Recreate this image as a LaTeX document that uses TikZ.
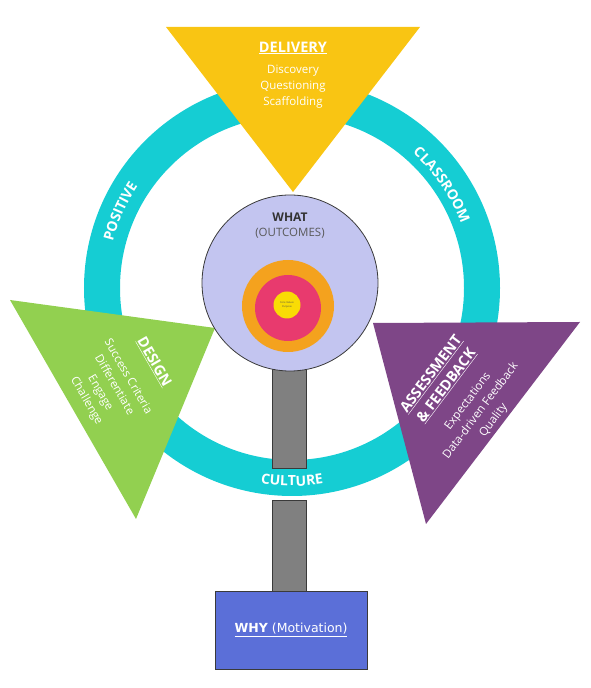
\documentclass[tikz,border=0pt]{standalone}
\usepackage{fontspec}
\setmainfont{Open Sans}
\newfontfamily\whyfont{DejaVu Sans}
\usetikzlibrary{decorations.text,calc}
\definecolor{ringcol}{HTML}{15CDD3}
\definecolor{deliv}{HTML}{F9C513}
\definecolor{desig}{HTML}{92D050}
\definecolor{assess}{HTML}{7E4687}
\definecolor{whatfill}{HTML}{C3C5F0}
\definecolor{orangec}{HTML}{F4A21E}
\definecolor{pinkc}{HTML}{E83A6E}
\definecolor{yellowc}{HTML}{F9DC05}
\definecolor{whyfill}{HTML}{5B6FD8}
\definecolor{pillar}{HTML}{808080}
\definecolor{edge}{HTML}{3A3A3A}
\newcommand{\ringfnt}{\fontsize{14}{14}\selectfont\bfseries}
\tikzset{
  headtxt/.style={text=white,align=center,font=\fontsize{14.5}{19}\selectfont\bfseries,inner sep=0pt},
  bodytxt/.style={text=white,align=center,font=\fontsize{11.5}{16}\selectfont,inner sep=0pt},
  pillarbox/.style={fill=pillar,draw=edge,line width=0.8pt},
  ringlabel/.style={decorate,decoration={text along path,text align=center}}
}
\begin{document}
\begin{tikzpicture}[x=1pt,y=1pt]
\useasboundingbox (0,0) rectangle (591,688);
% ring
\coordinate (rc) at (292,400);
\draw[ringcol,line width=36pt] (rc) circle[radius=190];
% triangles
\coordinate (d1) at (166,661); \coordinate (d2) at (420,661); \coordinate (d3) at (293,496);
\fill[deliv] (d1) -- (d2) -- (d3) -- cycle;
\coordinate (g1) at (10,388); \coordinate (g2) at (215,360); \coordinate (g3) at (136,169);
\fill[desig] (g1) -- (g2) -- (g3) -- cycle;
\coordinate (p1) at (373,365); \coordinate (p2) at (580,366); \coordinate (p3) at (426,164);
\fill[assess] (p1) -- (p2) -- (p3) -- cycle;
% pillar
\node[pillarbox,minimum width=34,minimum height=110,inner sep=0pt] (pilup) at (289,275) {};
\node[pillarbox,minimum width=34,minimum height=92,inner sep=0pt] (pillow) at (289,142) {};
% why box
\node[fill=whyfill,draw=edge,line width=0.8pt,minimum width=152,minimum height=78,inner sep=0pt,text=white,font=\whyfont\fontsize{12.5}{14}\selectfont] (why) at (291,58) {\underline{\textbf{WHY} (Motivation)}};
% what circle
\node[circle,fill=whatfill,draw=edge,line width=0.8pt,minimum size=176,inner sep=0pt] (what) at (290,405) {};
\node[text=black!80,font=\fontsize{12}{12}\selectfont\bfseries,inner sep=0pt] (whatt) at (290,470.5) {WHAT};
\node[text=black!65,font=\fontsize{11.5}{12}\selectfont,inner sep=0pt] (outc) at (290,455) {(OUTCOMES)};
% target
\node[circle,fill=orangec,minimum size=92,inner sep=0pt] (orng) at (288,382) {};
\node[circle,fill=pinkc,minimum size=66,inner sep=0pt] (pnk) at (288,380) {};
\node[circle,fill=yellowc,minimum size=27,inner sep=0pt,align=center,font=\fontsize{2.5}{3.5}\selectfont,text=black!70] (core) at (287,383) {Core Values\\Purpose};
% texts in triangles
\node[headtxt] (delh) at (293,640) {\underline{DELIVERY}};
\node[bodytxt] (delb) at (293,601) {Discovery\\Questioning\\Scaffolding};
\node[headtxt,rotate=-60] (desh) at (154,326) {\underline{DESIGN}};
\node[bodytxt,rotate=-60] (desb) at (107,299) {Success Criteria\\Differentiate\\Engage\\Challenge};
\node[headtxt,rotate=53] (assh) at (439,308) {\underline{ASSESSMENT}\\\underline{\& FEEDBACK}};
\node[bodytxt,rotate=53] (assb) at (481,277) {Expectations\\Data-driven Feedback\\Quality};
% ring labels
\path[ringlabel,decoration={text={|\ringfnt\color{white}|POSITIVE}}] ($(rc)+(186:185)$) arc[start angle=186,end angle=126,radius=185];
\path[ringlabel,decoration={text={|\ringfnt\color{white}|CLASSROOM}}] ($(rc)+(70:181)$) arc[start angle=70,end angle=-1,radius=181];
\path[ringlabel,decoration={text={|\ringfnt\color{white}|CULTURE}}] ($(rc)+(245:198)$) arc[start angle=245,end angle=295,radius=198];
\end{tikzpicture}
\end{document}
